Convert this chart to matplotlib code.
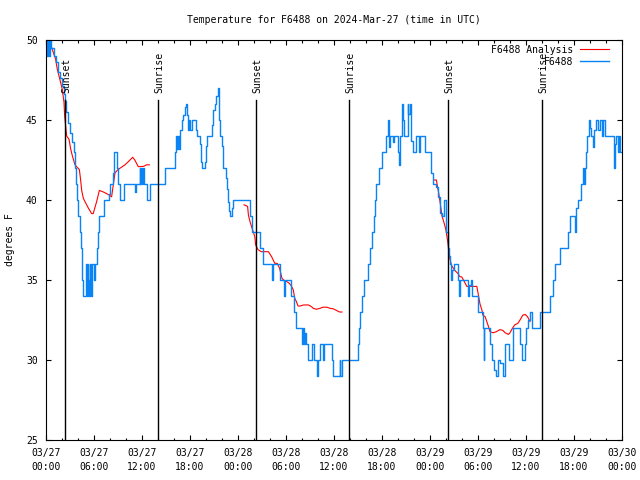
import matplotlib
matplotlib.use("Agg")
import matplotlib.pyplot as plt
from matplotlib.ticker import MultipleLocator

plt.rcParams['font.family'] = ['DejaVu Sans Mono']
plt.rcParams['font.size'] = 7

# hours since 2024-03-27 00:00 UTC
obs_hours = [0.0, 0.15, 0.25, 0.35, 0.45, 0.6, 1.0, 1.3, 1.5, 1.8, 2.0, 2.2, 2.4, 2.55, 2.7, 2.95, 3.25, 3.55, 3.65, 3.75,
             3.9, 4.05, 4.2, 4.35, 4.45, 4.55, 4.65, 5.0, 5.08, 5.2, 5.28, 5.4, 5.5, 5.58, 5.7, 5.8, 6.0, 6.1, 6.4, 6.55, 6.65,
             7.25, 7.9, 8.0, 8.34, 8.5, 8.9, 8.95, 9.25, 9.75, 11.1, 11.2, 11.7, 11.8, 11.9, 12.0, 12.1, 12.2, 12.6, 13.0, 14.85,
             16.1, 16.3, 16.4, 16.5, 16.6, 16.7, 16.95, 17.15, 17.35, 17.5, 17.65, 17.8, 17.92, 18.05, 18.2, 18.7, 18.9, 19.25,
             19.38, 19.46, 19.85, 20.0, 20.15, 20.8, 20.9, 21.1, 21.3, 21.45, 21.57, 21.65, 21.8, 21.95, 22.08, 22.5, 22.65,
             22.8, 22.9, 23.05, 23.25, 23.4,
             25.5, 25.7, 26.75, 27.08, 28.2, 28.35, 29.3, 29.8, 29.9, 30.6, 31.0, 31.3, 32.0, 32.1, 32.3, 32.4, 32.5, 32.8,
             33.3, 33.45, 33.85, 34.0, 34.2, 34.65, 34.8, 35.7, 35.85, 36.7, 36.8, 36.95,
             39.0, 39.15, 39.3, 39.45, 39.75, 40.25, 40.5, 40.75, 40.95, 41.1, 41.25, 41.6, 42.05, 42.55, 42.75, 42.85, 42.9,
             43.0, 43.35, 43.5, 43.95, 44.1, 44.2, 44.45, 44.6, 44.75, 45.2, 45.3, 45.45, 45.65, 45.85, 46.25, 46.6, 46.8,
             47.4, 48.15, 48.35, 48.7, 48.95, 49.2,
             49.5, 49.8, 49.95, 50.05, 50.25, 50.4, 50.5, 50.65, 50.8, 51.0, 51.5, 51.65, 51.75, 52.75, 52.9, 53.15, 53.3,
             53.95, 54.6, 54.7, 54.8, 55.55, 55.7, 56.05, 56.2, 56.45, 56.7, 57.1, 57.35, 57.85, 58.35, 59.2, 59.45, 59.85,
             60.05, 60.25, 60.45, 60.7, 61.75, 62.95,
             63.35, 63.6, 64.2, 65.25, 65.5, 66.1, 66.25, 66.5, 66.9, 67.1, 67.2, 67.35, 67.5, 67.65, 67.85, 68.0, 68.15,
             68.35, 68.55, 68.75, 68.95, 69.2, 69.45, 69.65, 69.85, 71.0, 71.1, 71.25, 71.45, 71.6, 71.75, 72.0]
obs_temps = [50, 49, 50, 49, 50, 49.5, 49, 48.6, 48, 47.6, 47.1, 46.6, 46.2, 45.5, 44.8, 44.2, 43.6, 43, 42, 41,
             40, 39, 38, 37, 36, 35, 34, 36, 34, 36, 35, 34, 36, 34, 35, 36, 35, 36, 37, 38, 39,
             40, 40.4, 41, 41.7, 43, 42, 41, 40, 41, 40.5, 41, 42, 41, 42, 41, 42, 41, 40, 41, 42,
             43, 44, 43.2, 44, 43.2, 44.4, 45, 45.3, 45.8, 46, 45.3, 44.4, 45, 44.4, 45, 44.4, 44, 43.5,
             42.4, 42, 42.4, 43.4, 44, 44.7, 45.6, 46, 46.5, 47, 46.5, 45, 44, 43.4, 42, 41.4, 40.7,
             39.9, 39.3, 39, 39.5, 40,
             39, 38, 37, 36, 35, 36, 35, 34, 35, 34, 33, 32, 31, 32, 31, 31.7, 31, 30,
             31, 30, 29, 30, 31, 30, 31, 30, 29, 30, 29, 30,
             31, 32, 33, 34, 35, 36, 37, 38, 39, 40, 41, 42, 43, 44, 45, 44, 43.3,
             44, 43.6, 44, 43, 42.2, 44, 46, 45, 44, 46, 45.4, 46, 43.7, 43, 44, 43, 44,
             43, 41.7, 41, 40.8, 40.2, 39.2,
             39, 40, 39, 38, 37, 36.5, 36, 35, 35.6, 36, 35, 34, 35, 34, 34.7, 35, 34,
             33, 32, 30, 32, 31, 30, 29.4, 29, 30, 29.8, 29, 31, 30, 32, 31, 30, 31,
             32, 32.5, 33, 32, 33, 34,
             35, 36, 37, 38, 39, 38, 39.5, 40, 41, 42, 41, 42, 43, 44, 45, 44.5, 44,
             43.3, 44.4, 45, 44.4, 45, 44, 45, 44, 42, 43.5, 44, 43, 44, 43, 43]

ana_hours = [0.375, 0.79, 1.2, 1.4, 1.75, 2.04, 2.25, 2.33, 2.46, 2.58, 2.875, 3.08, 3.3, 3.625, 3.83, 4.17,
             4.33, 4.46, 4.67, 4.875, 5.29, 5.7, 5.9, 6.33, 6.67, 7.17, 7.58, 7.92, 8.2, 8.625, 9.0, 9.875,
             10.3, 10.83, 11.1, 11.54, 12.17, 12.58, 12.92, None,
             24.75, 25.2, 25.3, 25.5, 25.7, 25.9, 26.1, 26.2, 26.5, 26.9, 27.8, 28.2, 28.6, 28.9,
             29.2, 29.5, 29.7, 30.1, 30.4, 30.7, 30.9, 31.1, 31.3, 31.5, 31.75, 32.2, 32.8, 33.2,
             33.4, 33.8, 34.25, 34.6, 35.1, 35.5, 35.9, 36.3, 36.7, 37.0, None,
             48.5, 48.8, 48.95, 49.1, 49.25, 49.5, 49.8, 50.0, 50.3, 50.5, 50.7, 51.1, 51.5,
             51.75, 51.96, 52.4, 52.6, 53.85, 54.0, 54.25, 54.5, 54.6, 54.9, 55.1, 55.3, 55.5,
             55.9, 56.3, 56.75, 57.1, 57.4, 57.8, 58.0, 58.3, 58.6, 59.0, 59.25, 59.6, 59.9,
             60.2, 60.5]
ana_temps = [50.0, 49.4, 48.8, 48.2, 47.5, 46.9, 46.1, 45.25, 44.6, 44.0, 43.8, 43.2, 42.75, 42.2, 42.08, 41.9,
             41.25, 40.6, 40.1, 39.9, 39.5, 39.15, 39.15, 39.9, 40.6, 40.5, 40.4, 40.3, 40.2, 41.7, 41.9, 42.2,
             42.4, 42.67, 42.5, 42.08, 42.1, 42.2, 42.2, None,
             39.7, 39.6, 39.06, 38.65, 38.33, 38.02, 37.7, 37.2, 36.9, 36.77, 36.77, 36.46, 36.04, 36.04,
             35.73, 35.1, 35.0, 34.9, 34.8, 34.6, 34.4, 33.85, 33.65, 33.375, 33.375, 33.44, 33.44, 33.33,
             33.23, 33.17, 33.23, 33.3, 33.3, 33.23, 33.2, 33.1, 33.0, 33.0, None,
             41.25, 41.25, 40.8, 40.4, 39.9, 39.0, 38.5, 38.1, 37.1, 36.3, 35.9, 35.6, 35.4,
             35.2, 35.2, 34.8, 34.6, 34.6, 34.2, 33.5, 33.1, 32.8, 32.7, 32.4, 32.1, 31.77,
             31.7, 31.77, 31.9, 31.85, 31.7, 31.6, 31.7, 31.98, 32.2, 32.3, 32.5, 32.8, 32.85,
             32.7, 32.4]

sun_hours = [2.35, 14.0, 26.25, 37.9, 50.25, 61.95]
sun_labels = ['Sunset', 'Sunrise', 'Sunset', 'Sunrise', 'Sunset', 'Sunrise']

tick_hours = list(range(0, 73, 6))
tick_labels = ['03/27\n00:00', '03/27\n06:00', '03/27\n12:00', '03/27\n18:00',
               '03/28\n00:00', '03/28\n06:00', '03/28\n12:00', '03/28\n18:00',
               '03/29\n00:00', '03/29\n06:00', '03/29\n12:00', '03/29\n18:00',
               '03/30\n00:00']

fig = plt.figure(figsize=(6.4, 4.8), dpi=100)
ax = fig.add_axes([46 / 640, 40 / 480, 576 / 640, 400 / 480])

ana_x = [float('nan') if h is None else h for h in ana_hours]
ana_y = [float('nan') if t is None else t for t in ana_temps]
ax.plot(ana_x, ana_y, color='#ff0000', linewidth=0.8, label='F6488 Analysis')
ax.plot(obs_hours, obs_temps, color='#0a84f5', linewidth=1.0, drawstyle='steps-post', label='F6488')

for h, lab in zip(sun_hours, sun_labels):
    ax.plot([h, h], [25, 46.25], color='black', linewidth=1.0)
    ax.text(h + 0.2, 46.7, lab, rotation=90, ha='center', va='bottom', fontsize=7)

ax.set_xlim(0, 72)
ax.set_ylim(25, 50)
ax.set_xticks(tick_hours)
ax.set_xticklabels(tick_labels, linespacing=1.45)
ax.xaxis.set_minor_locator(MultipleLocator(2))
ax.set_yticks([25, 30, 35, 40, 45, 50])
ax.tick_params(which='both', direction='in', top=True, right=True, width=0.8)
ax.tick_params(which='major', length=3.6)
ax.tick_params(which='minor', length=1.8)
ax.tick_params(axis='x', pad=6)
ax.tick_params(axis='y', pad=6)
for s in ax.spines.values():
    s.set_linewidth(0.8)

fig.text(334 / 640, 1 - 20 / 480, 'Temperature for F6488 on 2024-Mar-27 (time in UTC)',
         ha='center', va='center', fontsize=7)
fig.text(10 / 640, 0.5, 'degrees F', rotation=90, ha='center', va='center', fontsize=7)

ax.legend(loc='upper right', bbox_to_anchor=(1.0 - 8 / 576, 1.0), frameon=False, markerfirst=False,
          handlelength=3.0, handletextpad=0.7, labelspacing=0.2, borderaxespad=0.3,
          borderpad=0.2, fontsize=7)

fig.savefig('out.png', dpi=100)
